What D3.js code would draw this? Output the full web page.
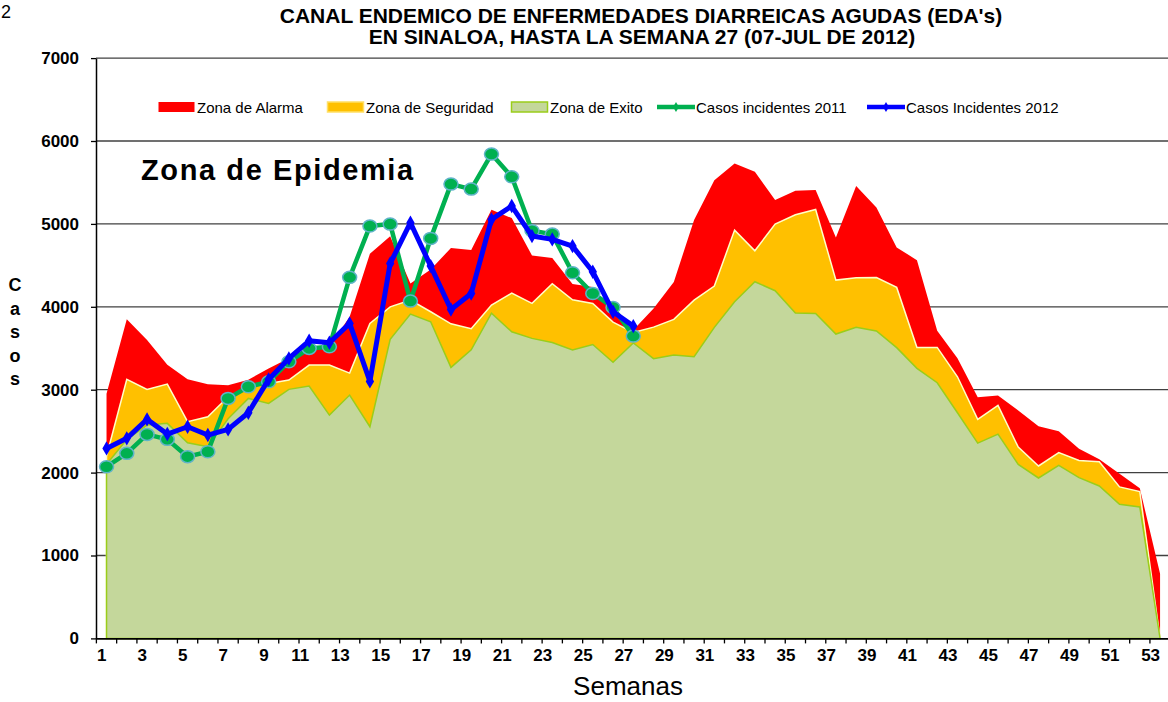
<!DOCTYPE html>
<html>
<head>
<meta charset="utf-8">
<script src="https://cdn.jsdelivr.net/npm/d3@7"></script>
<style>
  body { margin: 0; background: #fff; }
  svg { display: block; font-family: "Liberation Sans", Arial, sans-serif; }
</style>
</head>
<body>
<div id="chart"></div>
<script>
// semanas epidemiologicas
const weeks = d3.range(1, 54);

// canal endemico (limites superiores de cada zona)
const alarma = [2950, 3850, 3600, 3300, 3125, 3065, 3055, 3120, 3257, 3380,
  3480, 3520, 3880, 4640, 4850, 4280, 4450, 4710, 4685, 5170,
  5070, 4620, 4590, 4275, 4240, 3920, 3720, 3980, 4300, 5046,
  5528, 5729, 5629, 5287, 5400, 5408, 4837, 5456, 5199, 4716,
  4563, 3711, 3378, 2910, 2930, 2750, 2560, 2500, 2287, 2160,
  1985, 1811, 781];
const seguridad = [2200, 3125, 3004, 3068, 2614, 2674, 2915, 3036, 3076, 3116,
  3297, 3297, 3200, 3800, 4000, 4081, 3940, 3795, 3735, 4021,
  4165, 4041, 4278, 4085, 4041, 3815, 3690, 3755, 3848, 4081,
  4250, 4925, 4676, 4998, 5110, 5174, 4322, 4350, 4354, 4234,
  3510, 3510, 3156, 2643, 2810, 2307, 2080, 2242, 2146, 2132,
  1827, 1771, 0];
const exito = [2100, 2400, 2574, 2594, 2360, 2313, 2650, 2895, 2835, 3004,
  3044, 2694, 2935, 2553, 3607, 3912, 3820, 3269, 3482, 3924,
  3699, 3619, 3569, 3478, 3545, 3330, 3563, 3374, 3418, 3398,
  3752, 4061, 4302, 4194, 3924, 3920, 3671, 3752, 3708, 3507,
  3257, 3084, 2722, 2355, 2464, 2098, 1935, 2086, 1940, 1839,
  1618, 1586, 0];

// casos observados (semanas 1-27)
const casos2011 = [2071, 2232, 2461, 2401, 2192, 2252, 2895, 3036, 3096, 3337,
  3498, 3518, 4355, 4974, 4998, 4069, 4825, 5480, 5420, 5842,
  5568, 4917, 4877, 4411, 4161, 3992, 3647];
const casos2012 = [2292, 2413, 2642, 2465, 2553, 2453, 2521, 2722, 3124, 3377,
  3590, 3566, 3800, 3100, 4523, 5014, 4491, 3968, 4161, 5054,
  5215, 4853, 4813, 4732, 4423, 3940, 3767];

const yTicks = [0, 1000, 2000, 3000, 4000, 5000, 6000, 7000];

const W = 1168, H = 702;
const svg = d3.select("#chart").append("svg")
  .attr("width", W)
  .attr("height", H);

const x = d3.scaleBand().domain(weeks).range([96.4, 1170.2]).padding(0);
const bw = x.bandwidth();
const cx = w => x(w) + bw / 2;
const y = d3.scaleLinear().domain([0, 7000]).range([638.4, 58.1]);

// lineas de cuadricula
svg.append("g")
  .selectAll("line")
  .data(yTicks.filter(v => v > 0))
  .join("line")
  .attr("x1", 96).attr("x2", W)
  .attr("y1", d => y(d)).attr("y2", d => y(d))
  .attr("stroke", "#404040")
  .attr("stroke-width", 1.3);

// zonas
const zones = [
  {name: "Zona de Alarma", values: alarma, fill: "#ff0000", stroke: "none"},
  {name: "Zona de Seguridad", values: seguridad, fill: "#ffc000", stroke: "#ffffc8"},
  {name: "Zona de Exito", values: exito, fill: "#c4d79b", stroke: "#9acd1a"}
];

const area = d3.area()
  .x(d => cx(d.w))
  .y0(y(0))
  .y1(d => y(d.v));

zones.forEach(z => {
  svg.append("path")
    .datum(weeks.map((w, i) => ({w: w, v: z.values[i]})))
    .attr("d", area)
    .attr("fill", z.fill)
    .attr("stroke", z.stroke)
    .attr("stroke-width", 1.5);
});

// ejes
const yAxis = svg.append("g")
  .attr("transform", "translate(96,0)")
  .call(d3.axisLeft(y).tickValues(yTicks).tickFormat(d3.format("d"))
    .tickSizeInner(5).tickSizeOuter(0).tickPadding(12));
yAxis.select(".domain").attr("stroke", "#000").attr("stroke-width", 1.5);
yAxis.selectAll(".tick line").attr("stroke", "#000").attr("stroke-width", 1.3);
yAxis.selectAll("text")
  .attr("font-size", 17).attr("font-weight", "bold").attr("fill", "#000")
  .attr("font-family", "Liberation Sans, Arial, sans-serif");

const xAxis = svg.append("g")
  .attr("transform", "translate(0," + y(0) + ")")
  .call(d3.axisBottom(x).tickSizeInner(5).tickSizeOuter(0).tickPadding(6)
    .tickFormat(w => w % 2 === 1 ? w : ""));
xAxis.select(".domain").attr("stroke", "#000").attr("stroke-width", 1.8);
xAxis.selectAll(".tick line")
  .attr("transform", "translate(" + (-bw / 2) + ",0)")
  .attr("stroke", "#000").attr("stroke-width", 1.3);
xAxis.selectAll("text")
  .attr("text-anchor", "end")
  .attr("font-size", 17).attr("font-weight", "bold").attr("fill", "#000")
  .attr("font-family", "Liberation Sans, Arial, sans-serif");

// series de casos
const line = d3.line().x(d => cx(d.w)).y(d => y(d.v));
const pts2011 = casos2011.map((v, i) => ({w: weeks[i], v: v}));
const pts2012 = casos2012.map((v, i) => ({w: weeks[i], v: v}));

svg.append("path")
  .datum(pts2011)
  .attr("d", line)
  .attr("fill", "none")
  .attr("stroke", "#00b050")
  .attr("stroke-width", 4.5)
  .attr("stroke-linejoin", "round");
svg.append("g")
  .selectAll("ellipse")
  .data(pts2011)
  .join("ellipse")
  .attr("cx", d => cx(d.w)).attr("cy", d => y(d.v))
  .attr("rx", 7).attr("ry", 6)
  .attr("fill", "#00b050")
  .attr("stroke", "#5fb3c8")
  .attr("stroke-width", 1.5);

svg.append("path")
  .datum(pts2012)
  .attr("d", line)
  .attr("fill", "none")
  .attr("stroke", "#0000ff")
  .attr("stroke-width", 5)
  .attr("stroke-linejoin", "round");
svg.append("g")
  .selectAll("path")
  .data(pts2012)
  .join("path")
  .attr("transform", d => "translate(" + cx(d.w) + "," + y(d.v) + ")")
  .attr("d", d3.symbol(d3.symbolDiamond, 60))
  .attr("fill", "#0000ff");

// titulos
const title = svg.append("g")
  .attr("font-weight", "bold")
  .attr("font-size", 21)
  .attr("text-anchor", "middle");
title.append("text").attr("x", 641).attr("y", 23)
  .text("CANAL ENDEMICO DE ENFERMEDADES DIARREICAS AGUDAS (EDA's)");
title.append("text").attr("x", 642).attr("y", 44)
  .text("EN SINALOA, HASTA LA SEMANA 27 (07-JUL DE 2012)");

svg.append("text")
  .attr("x", 1).attr("y", 18)
  .attr("font-size", 18)
  .text("2");

svg.append("text")
  .attr("x", 141).attr("y", 180)
  .attr("font-size", 29)
  .attr("font-weight", "bold")
  .attr("letter-spacing", 1.6)
  .text("Zona de Epidemia");

svg.append("text")
  .attr("x", 628).attr("y", 695)
  .attr("font-size", 26)
  .attr("text-anchor", "middle")
  .text("Semanas");

svg.append("text")
  .attr("font-size", 18)
  .attr("font-weight", "bold")
  .attr("text-anchor", "middle")
  .selectAll("tspan")
  .data("Casos".split(""))
  .join("tspan")
  .attr("x", 15)
  .attr("y", (d, i) => 291 + i * 23.5)
  .text(d => d);

// leyenda
const legend = svg.append("g").attr("font-size", 15);
const legItems = [
  {label: "Zona de Alarma", x: 158, kind: "rect", fill: "#ff0000", stroke: "none"},
  {label: "Zona de Seguridad", x: 327, kind: "rect", fill: "#ffc000", stroke: "#ffe066"},
  {label: "Zona de Exito", x: 511, kind: "rect", fill: "#c4d79b", stroke: "#9acd1a"},
  {label: "Casos incidentes 2011", x: 657, kind: "line", color: "#00b050"},
  {label: "Casos Incidentes 2012", x: 867, kind: "line", color: "#0000ff"}
];
legItems.forEach(it => {
  const g = legend.append("g").attr("transform", "translate(" + it.x + ",107)");
  if (it.kind === "rect") {
    g.append("rect")
      .attr("x", 0.5).attr("y", -5).attr("width", 36).attr("height", 10)
      .attr("fill", it.fill).attr("stroke", it.stroke).attr("stroke-width", 1.5);
  } else {
    g.append("line")
      .attr("x1", 0).attr("x2", 38).attr("y1", 0).attr("y2", 0)
      .attr("stroke", it.color).attr("stroke-width", 4.5);
    g.append("path")
      .attr("transform", "translate(19,0)")
      .attr("d", d3.symbol(d3.symbolDiamond, 30))
      .attr("fill", it.color);
  }
  g.append("text")
    .attr("x", 39).attr("y", 5.5)
    .text(it.label);
});
</script>
</body>
</html>
